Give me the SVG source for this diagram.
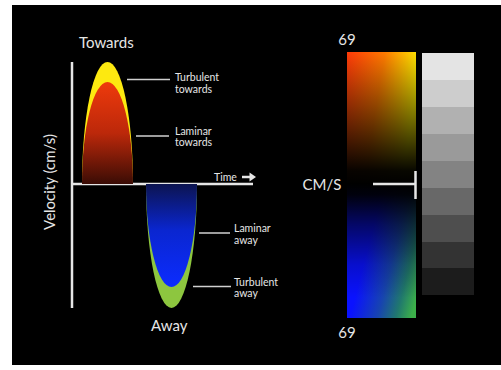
<svg xmlns="http://www.w3.org/2000/svg" width="501" height="370" viewBox="0 0 501 370">
<style>
.t{font-family:Lato,"Open Sans","Liberation Sans",sans-serif;fill:#e6e6e6}
.big{font-size:15px}
.sm{font-size:10.5px}
.ax{stroke:#e6e6e6;stroke-width:2.5;fill:none}
.ld{stroke:#d0d0d0;stroke-width:1.5;fill:none}
</style>
<defs>
<linearGradient id="red" x1="0" y1="0" x2="0" y2="1">
<stop offset="0" stop-color="#ee3a0c"/>
<stop offset="0.5" stop-color="#bc280a"/>
<stop offset="1" stop-color="#3a0c05"/>
</linearGradient>
<linearGradient id="blue" x1="0" y1="0" x2="0" y2="1">
<stop offset="0" stop-color="#0c1450"/>
<stop offset="0.45" stop-color="#0a26d0"/>
<stop offset="1" stop-color="#0c2cff"/>
</linearGradient>
<linearGradient id="warmH" x1="0" y1="0" x2="1" y2="0.3">
<stop offset="0" stop-color="#ff3a08"/>
<stop offset="0.5" stop-color="#ff7a00"/>
<stop offset="1" stop-color="#fff000"/>
</linearGradient>
<linearGradient id="warmV" x1="0" y1="0" x2="0" y2="1">
<stop offset="0" stop-color="#000" stop-opacity="0"/>
<stop offset="0.9" stop-color="#000" stop-opacity="0.97"/>
<stop offset="1" stop-color="#000" stop-opacity="1"/>
</linearGradient>
<linearGradient id="coolH" gradientUnits="userSpaceOnUse" x1="358" y1="285" x2="416" y2="300">
<stop offset="0" stop-color="#0a12ff"/>
<stop offset="0.45" stop-color="#1744b0"/>
<stop offset="0.75" stop-color="#20786e"/>
<stop offset="1" stop-color="#3cb04a"/>
</linearGradient>
<linearGradient id="coolV" x1="0" y1="0" x2="0" y2="1">
<stop offset="0" stop-color="#000" stop-opacity="1"/>
<stop offset="0.08" stop-color="#000" stop-opacity="0.95"/>
<stop offset="0.3" stop-color="#000" stop-opacity="0.6"/>
<stop offset="0.6" stop-color="#000" stop-opacity="0.2"/>
<stop offset="0.85" stop-color="#000" stop-opacity="0"/>
</linearGradient>
</defs>
<rect x="12" y="5" width="489" height="360" fill="#000"/>

<g id="axes">
<line class="ax" x1="72" y1="62" x2="72" y2="308"/>
<line class="ax" x1="72" y1="184" x2="253" y2="184"/>
</g>

<g id="towards-wave">
<path d="M82,184 A25.5,122 0 0 1 133,184 Z" fill="#fde910"/>
<path d="M82,184 A25.5,102 0 0 1 133,184 Z" fill="url(#red)"/>
</g>
<g id="away-wave">
<path d="M146,184 A25.5,124 0 0 0 197,184 Z" fill="#8dc63f"/>
<path d="M146,184 A25.5,103 0 0 0 197,184 Z" fill="url(#blue)"/>
</g>

<g id="connectors">
<line class="ld" x1="127" y1="79.5" x2="170" y2="79.5"/>
<line class="ld" x1="136" y1="136" x2="169" y2="136"/>
<line class="ld" x1="199" y1="233" x2="230" y2="233"/>
<line class="ld" x1="193" y1="286.5" x2="231" y2="286.5"/>
</g>

<g id="labels">
<text class="t big" x="79" y="48">Towards</text>
<text class="t big" x="151" y="331">Away</text>
<text class="t big" transform="translate(55,182) rotate(-90)" text-anchor="middle">Velocity (cm/s)</text>
<text class="t sm" x="175" y="81">Turbulent</text>
<text class="t sm" x="175" y="92.5">towards</text>
<text class="t sm" x="175" y="134.5">Laminar</text>
<text class="t sm" x="175" y="146">towards</text>
<text class="t sm" x="234" y="232">Laminar</text>
<text class="t sm" x="234" y="243.5">away</text>
<text class="t sm" x="234" y="285.5">Turbulent</text>
<text class="t sm" x="234" y="297">away</text>
<text class="t sm" x="214" y="181">Time</text>
</g>
<g id="time-arrow">
<line x1="242" y1="177" x2="251" y2="177" stroke="#e6e6e6" stroke-width="2.5"/>
<polygon points="249.5,172.5 256,177 249.5,181.5" fill="#e6e6e6"/>
</g>

<g id="color-bar">
<rect x="347" y="52" width="69" height="132" fill="url(#warmH)"/>
<rect x="347" y="52" width="69" height="132" fill="url(#warmV)"/>
<rect x="347" y="184" width="69" height="134" fill="url(#coolH)"/>
<rect x="347" y="184" width="69" height="134" fill="url(#coolV)"/>
<text class="t big" x="347" y="45" text-anchor="middle">69</text>
<text class="t big" x="347" y="338" text-anchor="middle">69</text>
<text class="t big" x="322" y="190" text-anchor="middle">CM/S</text>
</g>
<g id="baseline-marker">
<line x1="373" y1="184" x2="415" y2="184" stroke="#e6e6e6" stroke-width="2.5"/>
<line x1="415.5" y1="171" x2="415.5" y2="199" stroke="#e6e6e6" stroke-width="2.5"/>
</g>

<g id="gray-scale">
<rect x="422" y="53" width="52" height="27" fill="#e4e4e4"/>
<rect x="422" y="80" width="52" height="27" fill="#cdcdcd"/>
<rect x="422" y="107" width="52" height="27" fill="#b1b1b1"/>
<rect x="422" y="134" width="52" height="27" fill="#9a9a9a"/>
<rect x="422" y="161" width="52" height="27" fill="#838383"/>
<rect x="422" y="188" width="52" height="27" fill="#686868"/>
<rect x="422" y="215" width="52" height="27" fill="#4e4e4e"/>
<rect x="422" y="242" width="52" height="26" fill="#333333"/>
<rect x="422" y="268" width="52" height="27" fill="#1c1c1c"/>
</g>
</svg>
